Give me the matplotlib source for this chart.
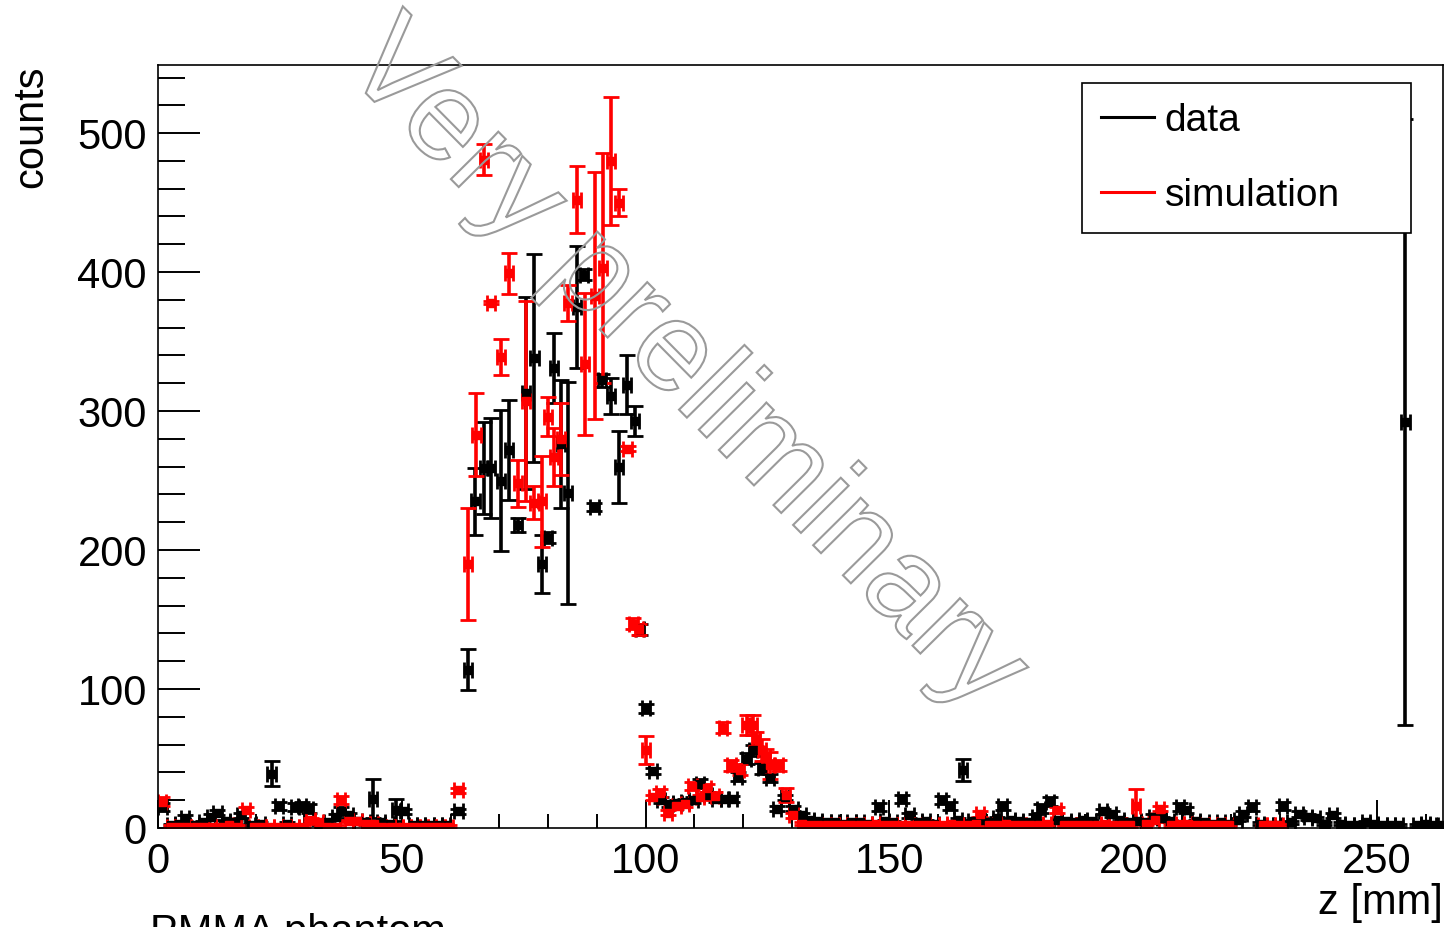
import matplotlib
matplotlib.use("Agg")
import matplotlib.pyplot as plt
from matplotlib.lines import Line2D
from matplotlib.textpath import TextPath
from matplotlib.patches import PathPatch
from matplotlib.font_manager import FontProperties
from matplotlib.transforms import Affine2D, IdentityTransform
from matplotlib.ticker import MultipleLocator

plt.rcParams['font.family'] = ['Liberation Sans', 'DejaVu Sans']

# measured data (z in mm, counts, error)
data_z = [0.9, 2.6, 4.4, 5.5, 7.5, 9.2, 10.8, 12.2, 14.0, 15.7, 17.0, 19.0, 21.0, 23.3, 24.8, 26.5,
          28.1, 29.6, 31.0, 33.0, 34.8, 36.5, 37.5, 39.2, 41.0, 42.6, 44.1, 45.8, 47.5, 48.9, 50.5,
          52.3, 54.0, 55.7, 57.4, 59.1, 61.6,
          63.6, 65.1, 66.8, 68.3, 70.4, 72.0, 73.8, 75.5, 77.2, 78.7, 80.0, 81.2, 82.7, 84.1, 85.9,
          87.4, 89.5, 91.0, 92.9, 94.6, 96.2, 97.8, 98.8, 100.0, 101.5, 103.2, 104.8, 106.5, 108.1,
          109.8, 111.1, 112.8, 114.5, 116.2, 117.8, 119.0, 120.7, 122.0, 123.8, 125.5, 126.9, 128.6,
          130.3, 132.0,
          133.7, 135.4, 137.1, 138.8, 140.5, 142.2, 143.9, 145.6, 147.9, 149.0, 150.7, 152.5, 154.1,
          155.8, 157.5, 159.2, 160.7, 162.4, 164.0, 165.1, 167.0, 168.7, 170.4, 172.0, 173.2, 174.9,
          176.6, 178.3, 180.0, 181.0, 182.9, 184.6, 186.3, 188.0, 189.7, 191.4, 193.8, 195.6, 197.3,
          199.0, 200.7, 202.4, 204.1, 205.8, 207.5, 209.5, 210.8, 212.9, 214.6, 216.3, 218.0, 219.7,
          221.4, 222.5, 224.3, 226.0, 227.7, 229.4, 230.7, 232.4, 234.0, 235.8, 237.5, 239.2, 241.0,
          242.6, 244.3, 246.0, 247.7, 249.4, 251.1, 252.8, 254.5, 255.8, 258.2, 259.9, 261.6, 263.0]
data_y = [15, 2, 3, 7, 2, 4, 8, 11, 5, 4, 9, 2, 3, 39, 16, 3,
          15, 16, 14, 3, 4, 8, 12, 9, 5, 4, 21, 4, 3, 13, 12,
          2, 2, 2, 2, 2, 12,
          114, 235, 259, 259, 250, 272, 218, 313, 338, 190, 209, 331, 276, 241, 375,
          398, 231, 322, 311, 260, 319, 293, 143, 86, 41, 20, 17, 18, 19,
          20, 32, 24, 21, 21, 21, 37, 50, 56, 43, 36, 14, 22,
          14, 9,
          6, 5, 4, 4, 3, 4, 4, 3, 15, 5, 4, 21, 9,
          4, 5, 3, 20, 16, 6, 42, 5, 6, 4, 7, 16, 6,
          5, 4, 8, 14, 19, 6, 5, 4, 6, 5, 12, 10, 6,
          4, 5, 4, 8, 7, 5, 15, 13, 5, 4, 3, 4, 3,
          6, 10, 15, 3, 2, 2, 16, 4, 10, 8, 7, 3, 9,
          3, 2, 2, 4, 3, 2, 2, 2, 292, 2, 3, 2, 2]
data_err = [3, 1, 1, 2, 1, 1, 2, 2, 1, 1, 2, 1, 1, 9, 3, 1,
            3, 3, 3, 1, 1, 2, 3, 2, 1, 1, 14, 1, 1, 8, 2,
            1, 1, 1, 1, 1, 2,
            15, 24, 33, 36, 51, 36, 5, 69, 75, 21, 4, 25, 46, 80, 44,
            4, 3, 5, 13, 26, 21, 11, 4, 3, 2, 2, 2, 2, 2,
            2, 3, 2, 2, 2, 2, 3, 4, 4, 4, 3, 2, 2,
            2, 2,
            1, 1, 1, 1, 1, 1, 1, 1, 3, 1, 1, 3, 2,
            1, 1, 1, 3, 3, 1, 8, 1, 1, 1, 1, 3, 1,
            1, 1, 2, 3, 3, 1, 1, 1, 1, 1, 2, 2, 1,
            1, 1, 1, 2, 1, 1, 3, 2, 1, 1, 1, 1, 1,
            1, 2, 3, 1, 1, 1, 3, 1, 2, 2, 1, 1, 2,
            1, 1, 1, 1, 1, 1, 1, 1, 218, 1, 1, 1, 1]

# simulation
sim_z = [0.8, 2.6, 4.3, 6.0, 7.7, 9.4, 11.1, 12.8, 14.5, 16.2, 18.1, 19.6, 21.3, 23.0, 24.7, 26.4,
         28.1, 29.8, 31.3, 33.0, 34.7, 36.4, 37.5, 39.2, 40.9, 42.6, 44.3, 46.0, 47.7, 49.4, 51.1,
         52.8, 54.5, 56.2, 57.9, 59.6, 61.6,
         63.6, 65.3, 66.8, 68.3, 70.4, 72.0, 73.8, 75.5, 77.2, 78.7, 79.9, 81.2, 82.7, 84.1, 85.9,
         87.6, 89.6, 91.2, 92.9, 94.6, 96.3, 97.5, 98.7, 100.0, 101.6, 103.0, 104.6, 106.3, 108.0,
         109.6, 111.1, 112.6, 114.2, 115.8, 117.6, 119.3, 120.7, 122.0, 122.6, 123.8, 124.7, 125.5,
         127.3, 128.8, 130.3, 132.0,
         133.7, 135.4, 137.1, 138.8, 140.5, 142.2, 143.9, 145.6, 147.3, 149.0, 150.7, 152.4, 154.1,
         155.8, 157.5, 159.2, 160.9, 162.6, 164.3, 166.0, 167.7, 168.5, 170.4, 172.1, 173.8, 175.5,
         177.2, 178.9, 180.6, 182.3, 184.4, 185.7, 187.4, 189.1, 190.8, 192.5, 194.2, 195.9, 197.6,
         199.3, 200.5, 202.7, 204.4, 205.5, 207.8, 209.5, 211.2, 212.9, 214.6, 216.3, 218.0, 219.7,
         226.5, 228.2, 229.9]
sim_y = [19, 1, 1, 1, 1, 1, 1, 1, 2, 1, 13, 1, 1, 1, 1, 1,
         1, 1, 6, 4, 1, 1, 20, 5, 5, 3, 3, 1, 1, 1, 1,
         1, 1, 1, 1, 1, 27,
         190, 283, 481, 378, 339, 399, 248, 307, 234, 235, 296, 267, 280, 378, 452,
         334, 383, 403, 480, 450, 273, 147, 143, 56, 22, 25, 11, 16, 17,
         30, 22, 29, 23, 72, 45, 42, 74, 74, 64, 56, 51, 45,
         45, 24, 9, 3,
         2, 2, 2, 2, 2, 2, 2, 2, 3, 2, 2, 2, 2,
         2, 2, 2, 2, 3, 2, 2, 3, 10, 2, 2, 3, 2,
         2, 2, 2, 3, 13, 2, 2, 2, 2, 2, 3, 2, 2,
         2, 16, 3, 6, 14, 2, 3, 3, 2, 2, 2, 2, 2,
         2, 2, 2]
sim_err = [3, 1, 1, 1, 1, 1, 1, 1, 1, 1, 2, 1, 1, 1, 1, 1,
           1, 1, 1, 1, 1, 1, 3, 1, 1, 1, 1, 1, 1, 1, 1,
           1, 1, 1, 1, 1, 2,
           40, 30, 11, 1, 13, 15, 17, 72, 12, 33, 14, 21, 26, 13, 24,
           51, 89, 83, 46, 10, 2, 4, 4, 10, 2, 3, 2, 2, 2,
           3, 2, 3, 3, 4, 4, 4, 7, 7, 5, 8, 6, 10,
           4, 5, 2, 1,
           1, 1, 1, 1, 1, 1, 1, 1, 1, 1, 1, 1, 1,
           1, 1, 1, 1, 1, 1, 1, 1, 2, 1, 1, 1, 1,
           1, 1, 1, 1, 2, 1, 1, 1, 1, 1, 1, 1, 1,
           1, 12, 1, 2, 2, 1, 1, 1, 1, 1, 1, 1, 1,
           1, 1, 1]
bin_half = 0.85

W, H = 1447, 927
fig = plt.figure(figsize=(W / 100, H / 100), dpi=100)
ax = fig.add_axes([158 / W, (H - 828) / H, 1285 / W, 763 / H])

ebkw = dict(fmt='s', ms=5.5, elinewidth=2.6, capsize=5.5, capthick=2.0)
ax.errorbar(data_z, data_y, yerr=data_err, xerr=bin_half, color='black', **ebkw)
ax.errorbar(sim_z, sim_y, yerr=sim_err, xerr=bin_half, color='red', **ebkw)

ax.set_xlim(0, 263.5)
ax.set_ylim(0, 549)
ax.xaxis.set_major_locator(MultipleLocator(50))
ax.xaxis.set_minor_locator(MultipleLocator(10))
ax.yaxis.set_major_locator(MultipleLocator(100))
ax.yaxis.set_minor_locator(MultipleLocator(20))
ax.tick_params(which='both', direction='in', width=1.4, labelsize=30)
ax.tick_params(axis='y', which='major', length=30, pad=8)
ax.tick_params(axis='y', which='minor', length=19.5)
ax.tick_params(axis='x', which='major', length=20, pad=10)
ax.tick_params(axis='x', which='minor', length=10)
for s in ax.spines.values():
    s.set_linewidth(1.2)

ax.set_ylabel('counts', fontsize=30, loc='top')
ax.yaxis.set_label_coords(-0.083, 1.0)
ax.set_xlabel('z [mm]', fontsize=30, loc='right')
ax.xaxis.set_label_coords(1.0, -0.072)

handles = [Line2D([], [], color='black', lw=2.2), Line2D([], [], color='red', lw=2.2)]
leg = ax.legend(handles, ['data', 'simulation'], fontsize=28, loc='upper left',
                bbox_to_anchor=(0.719, 0.976, 0.256, 0), mode='expand', borderaxespad=0,
                borderpad=0.5, labelspacing=1.0, handlelength=1.35,
                handletextpad=0.28, fancybox=False, framealpha=1, edgecolor='black')
leg.get_frame().set_linewidth(1.2)
leg.set_zorder(20)

# outlined watermark
tp = TextPath((0, 0), 'Very preliminary', size=127, prop=FontProperties(family='Liberation Sans'))
ext = tp.get_extents()
cx, cy = (ext.x0 + ext.x1) / 2, (ext.y0 + ext.y1) / 2
tr = Affine2D().translate(-cx, -cy).rotate_deg(-45.3).translate(684, H - 368)
fig.patches.append(PathPatch(tr.transform_path(tp), transform=IdentityTransform(),
                             facecolor='none', edgecolor='#9a9a9a', lw=1.5, zorder=10))

fig.text(150 / W, 1 - 913 / H, 'PMMA phantom', fontsize=30, va='top', ha='left')

fig.savefig('out.png', dpi=100)
